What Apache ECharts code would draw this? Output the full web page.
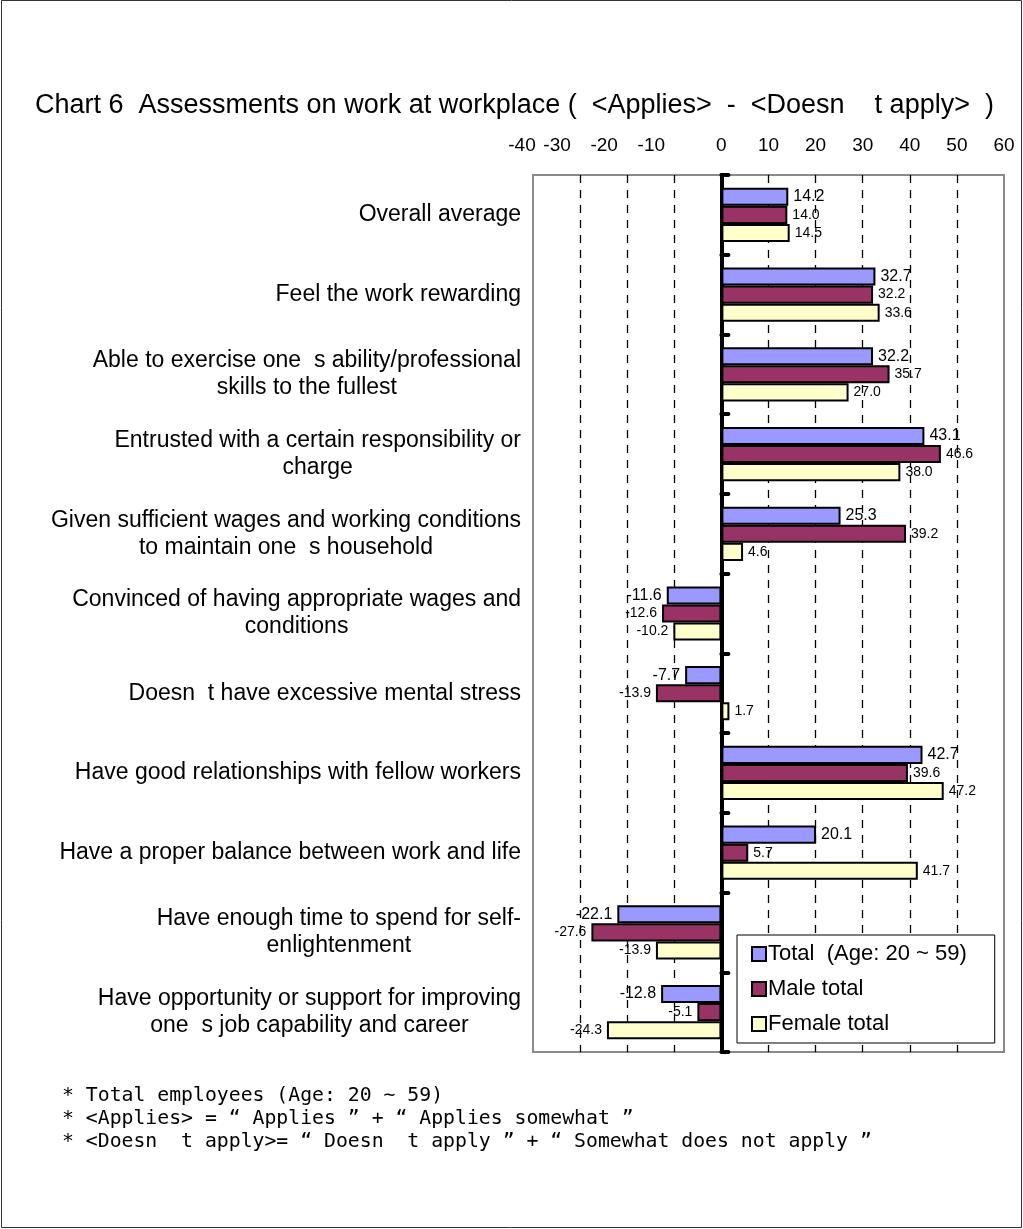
<!DOCTYPE html>
<html>
<head>
<meta charset="utf-8">
<script src="https://cdn.jsdelivr.net/npm/echarts@6/dist/echarts.min.js"></script>
<style>
html,body{margin:0;padding:0;background:#fff;}
#chart{width:1023px;height:1229px;}
</style>
</head>
<body>
<div id="chart"></div>
<script>
const categories = [
  "Overall average",
  "Feel the work rewarding",
  "Able to exercise one  s ability/professional\nskills to the fullest",
  "Entrusted with a certain responsibility or\ncharge",
  "Given sufficient wages and working conditions\nto maintain one  s household",
  "Convinced of having appropriate wages and\nconditions",
  "Doesn  t have excessive mental stress",
  "Have good relationships with fellow workers",
  "Have a proper balance between work and life",
  "Have enough time to spend for self-\nenlightenment",
  "Have opportunity or support for improving\none  s job capability and career"
];
const totalValues  = [14.2, 32.7, 32.2, 43.1, 25.3, -11.6, -7.7, 42.7, 20.1, -22.1, -12.8];
const maleValues   = [14.0, 32.2, 35.7, 46.6, 39.2, -12.6, -13.9, 39.6, 5.7, -27.6, -5.1];
const femaleValues = [14.5, 33.6, 27.0, 38.0, 4.6, -10.2, 1.7, 47.2, 41.7, -13.9, -24.3];
const seriesNames = ["Total  (Age: 20 ~ 59)", "Male total", "Female total"];
const titleText = "Chart 6  Assessments on work at workplace (  <Applies>  -  <Doesn    t apply>  )";
const footnotes = [
  "* Total employees (Age: 20 ~ 59)",
  "* <Applies> = \u201c Applies \u201d + \u201c Applies somewhat \u201d",
  "* <Doesn  t apply>= \u201c Doesn  t apply \u201d + \u201c Somewhat does not apply \u201d"
];

const FONT = "'Liberation Sans', Arial, sans-serif";
const LABEL_FONT_SIZE = 23;
const chart = echarts.init(document.getElementById('chart'));

function mkSeries(name, data, color, fs) {
  return {
    name: name,
    type: 'bar',
    yAxisIndex: 0,
    data: data.map(v => v < 0 ? { value: v, label: { position: 'left' } } : { value: v }),
    barGap: '0%',
    barCategoryGap: '32%',
    itemStyle: { color: color, borderColor: '#000', borderWidth: 2 },
    label: {
      show: true,
      color: '#000',
      fontFamily: FONT,
      fontSize: fs,
      distance: 5,
      position: 'right',
      formatter: p => Number(p.value).toFixed(1)
    }
  };
}

const option = {
  animation: false,
  backgroundColor: '#fff',
  title: {
    text: titleText,
    left: 30,
    top: 87,
    textStyle: { fontFamily: FONT, fontSize: 27, fontWeight: 'normal', color: '#000' }
  },
  grid: { left: 533, right: 19, top: 175, bottom: 177, show: true, borderColor: '#8a8a8a', borderWidth: 2, backgroundColor: 'transparent' },
  legend: {
    orient: 'vertical',
    left: 737,
    top: 935,
    itemWidth: 14,
    itemHeight: 14,
    itemGap: 13,
    padding: [8, 28, 8, 14],
    borderColor: '#000',
    borderWidth: 1,
    backgroundColor: '#fff',
    icon: 'rect',
    textStyle: { fontFamily: FONT, fontSize: 22, color: '#000', padding: [0, 0, 0, -3] },
    data: seriesNames
  },
  xAxis: {
    type: 'value',
    position: 'top',
    min: -40,
    max: 60,
    interval: 10,
    axisLine: { show: false },
    axisTick: { show: false },
    axisLabel: { fontFamily: FONT, fontSize: 19, color: '#000', margin: 20,
      formatter: v => v === -40 ? '{e|' + v + '}' : (v < 0 ? '{n|' + v + '}' : String(v)),
      rich: {
        n: { fontFamily: FONT, fontSize: 19, color: '#000', padding: [0, 46, 0, 0] },
        e: { fontFamily: FONT, fontSize: 19, color: '#000', padding: [0, 22, 0, 0] }
      } },
    splitLine: { show: true, showMinLine: false, showMaxLine: false, lineStyle: { color: '#000', type: [8, 7], width: 1.3 } }
  },
  yAxis: [
    {
      type: 'category',
      data: categories,
      inverse: true,
      axisLine: { show: false, onZero: false },
      axisTick: { show: false },
      axisLabel: { show: false },
      splitLine: { show: false }
    },
    {
      type: 'category',
      data: categories,
      inverse: true,
      position: 'left',
      axisLine: { show: true, onZero: true, lineStyle: { color: '#000', width: 4 } },
      axisTick: { show: true, inside: true, length: 7, lineStyle: { color: '#000', width: 4, cap: 'round' } },
      axisLabel: { show: false },
      splitLine: { show: false }
    }
  ],
  series: [
    mkSeries(seriesNames[0], totalValues, '#9999FF', 16),
    mkSeries(seriesNames[1], maleValues, '#993366', 14),
    mkSeries(seriesNames[2], femaleValues, '#FFFFCC', 14)
  ],
  graphic: [
    { type: 'rect', shape: { x: 1.5, y: 0.5, width: 1020, height: 1227 }, style: { fill: 'none', stroke: '#333', lineWidth: 1 }, z: 100 },
    { type: 'text', left: 62, top: 1086, style: { text: footnotes[0], font: "19.8px 'DejaVu Sans Mono', monospace", fill: '#000' } },
    { type: 'text', left: 62, top: 1109, style: { text: footnotes[1], font: "19.8px 'DejaVu Sans Mono', monospace", fill: '#000' } },
    { type: 'text', left: 62, top: 1132, style: { text: footnotes[2], font: "19.8px 'DejaVu Sans Mono', monospace", fill: '#000' } }
  ]
};
chart.setOption(option);

// Category labels: block right edge at grid left - 12, lines centred within the block.
const ctx = document.createElement('canvas').getContext('2d');
ctx.font = LABEL_FONT_SIZE + "px 'Liberation Sans', Arial, sans-serif";
const labelGraphics = categories.map((c, i) => {
  const lines = c.split('\n');
  const w = Math.max(...lines.map(l => ctx.measureText(l).width));
  const y = chart.convertToPixel({ yAxisIndex: 0 }, i);
  const xRight = chart.convertToPixel({ xAxisIndex: 0 }, -40) - 12;
  return {
    type: 'text',
    x: xRight - w / 2,
    y: y,
    style: {
      text: c,
      font: LABEL_FONT_SIZE + "px 'Liberation Sans', Arial, sans-serif",
      fill: '#000',
      align: 'center',
      verticalAlign: 'middle',
      lineHeight: 27
    }
  };
});
chart.setOption({ graphic: option.graphic.concat(labelGraphics) });
</script>
</body>
</html>
